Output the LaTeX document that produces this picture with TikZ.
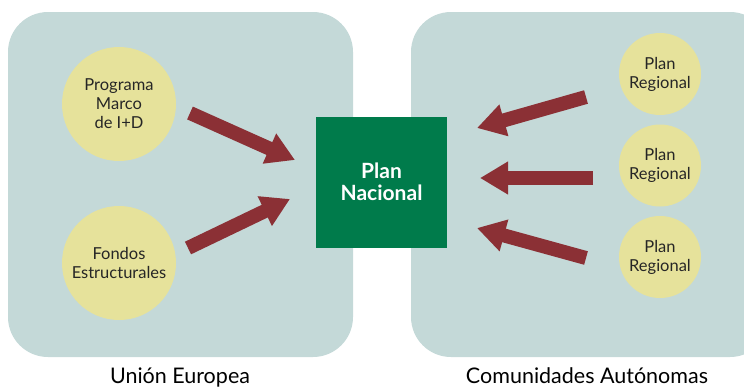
\documentclass[tikz,border=0pt]{standalone}
\usepackage{fontspec}
\setmainfont{Lato}
\usetikzlibrary{arrows.meta}
\definecolor{boxgray}{HTML}{C4D9D8}
\definecolor{planyellow}{HTML}{E6E29B}
\definecolor{plangreen}{HTML}{007B4B}
\definecolor{arrowred}{HTML}{8B3035}
\tikzset{
  planfont/.style={font=\fontsize{16.5}{19}\selectfont, align=center, text=black!85},
  plancircle/.style={circle, fill=planyellow, planfont, inner sep=0pt},
  flowarrow/.style={draw=arrowred, line width=14pt, -{Triangle[length=28pt,width=31pt]}}
}
\begin{document}
\begin{tikzpicture}[x=1pt,y=-1pt]
    \clip (0,0) rectangle (744,389);% fix the margins
    \fill[boxgray, rounded corners=40pt] (8,12) rectangle (353,357);% draw the left box
    \fill[boxgray, rounded corners=40pt] (411,12) rectangle (770,357);% draw the right box
    % Nodes
    \node[fill=plangreen, minimum size=131pt, inner sep=0pt, text=white, align=center,
          font=\bfseries\fontsize{21}{22}\selectfont] (pn) at (381.5,182) {Plan\\Nacional};
    \node[plancircle, minimum size=114pt] (pm) at (119,104) {Programa\\Marco\\de I+D};
    \node[plancircle, minimum size=114pt] (fe) at (119,263) {Fondos\\Estructurales};
    \node[plancircle, minimum size=82pt] (pra) at (660,74) {Plan\\Regional};
    \node[plancircle, minimum size=82pt] (prb) at (660,165.5) {Plan\\Regional};
    \node[plancircle, minimum size=82pt] (prc) at (660,257) {Plan\\Regional};
    % Arrow ends
    \coordinate (pmtail) at (190,113);
    \coordinate (pmtip) at (295,160);
    \coordinate (fetail) at (188,248);
    \coordinate (fetip) at (290,199);
    \coordinate (pratail) at (586,97);
    \coordinate (pratip) at (477,128);
    \coordinate (prbtail) at (593,178);
    \coordinate (prbtip) at (480,178);
    \coordinate (prctail) at (586,258);
    \coordinate (prctip) at (477,228);
    % Arrows
    \draw[flowarrow] (pmtail) -- (pmtip);
    \draw[flowarrow] (fetail) -- (fetip);
    \draw[flowarrow] (pratail) -- (pratip);
    \draw[flowarrow] (prbtail) -- (prbtip);
    \draw[flowarrow] (prctail) -- (prctip);
    % Labels
    \node[font=\fontsize{21.5}{24}\selectfont, anchor=base] (ue) at (180,383) {Unión Europea};
    \node[font=\fontsize{21.5}{24}\selectfont, anchor=base] (ca) at (587,383) {Comunidades Autónomas};
\end{tikzpicture}
\end{document}
